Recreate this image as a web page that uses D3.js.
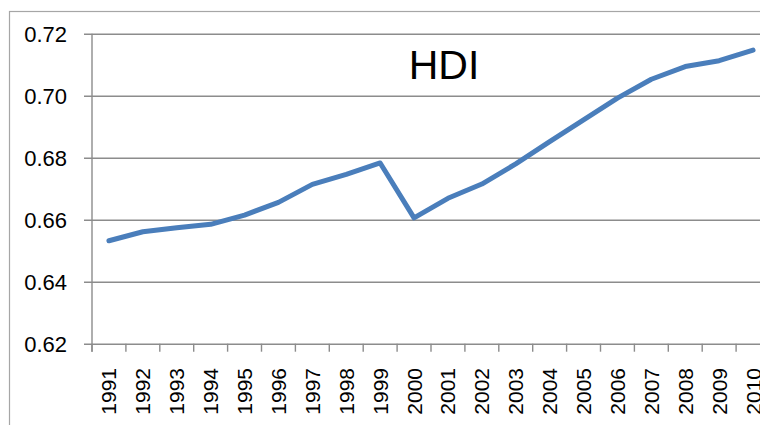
<!DOCTYPE html>
<html>
<head>
<meta charset="utf-8">
<script src="https://cdn.jsdelivr.net/npm/d3@7"></script>
<style>
  body { margin: 0; background: #fff; }
  svg { display: block; font-family: "Liberation Sans", Arial, sans-serif; }
</style>
</head>
<body>
<figure id="chart" style="margin:0"></figure>
<script>
// HDI values
const years = ['1991', '1992', '1993', '1994', '1995', '1996', '1997', '1998', '1999', '2000',
  '2001', '2002', '2003', '2004', '2005', '2006', '2007', '2008', '2009', '2010'];
const hdi = [0.6532, 0.6561, 0.6574, 0.6585, 0.6615, 0.6656, 0.6714, 0.6746, 0.6783, 0.6606,
  0.6669, 0.6715, 0.6780, 0.6852, 0.6922, 0.6992, 0.7053, 0.7094, 0.7113, 0.7147];
const yTicks = [0.62, 0.64, 0.66, 0.68, 0.70, 0.72];
const title = 'HDI';

const width = 760;
const height = 425;
const plotLeft = 92;
const plotW = 678;
const plotTop = 33.7;
const plotBottom = 343.7;

const svg = d3.select('figure#chart')
  .append('svg')
  .attr('width', width)
  .attr('height', height);

// outer chart border (runs off the right and bottom)
svg.append('rect')
  .attr('x', 9.5)
  .attr('y', 11.5)
  .attr('width', 900)
  .attr('height', 500)
  .attr('fill', 'none')
  .attr('stroke', '#a6a6a6')
  .attr('stroke-width', 1.2);

const x = d3.scaleBand()
  .domain(years)
  .range([plotLeft, plotLeft + plotW]);

const y = d3.scaleLinear()
  .domain([0.62, 0.72])
  .range([plotBottom, plotTop]);

// gridlines + y axis
const yAxis = svg.append('g')
  .attr('transform', 'translate(' + plotLeft + ',0)')
  .call(d3.axisLeft(y).tickValues(yTicks).tickSize(-plotW).tickFormat(d3.format('.2f')));
yAxis.select('.domain').remove();
yAxis.selectAll('.tick line')
  .attr('x1', -8)
  .attr('stroke', '#8c8c8c')
  .attr('stroke-width', 1.4);
yAxis.selectAll('.tick text')
  .attr('x', -25)
  .attr('dy', '0.36em')
  .attr('fill', '#000')
  .style('font-size', '22px');

svg.append('line')
  .attr('x1', plotLeft).attr('x2', plotLeft)
  .attr('y1', plotTop).attr('y2', plotBottom + 8)
  .attr('stroke', '#8c8c8c')
  .attr('stroke-width', 1.4);

// category boundary ticks on the x axis
svg.append('g')
  .selectAll('line')
  .data(d3.range(years.length + 1))
  .enter()
  .append('line')
  .attr('x1', i => plotLeft + i * x.step())
  .attr('x2', i => plotLeft + i * x.step())
  .attr('y1', plotBottom)
  .attr('y2', plotBottom + 8)
  .attr('stroke', '#8c8c8c')
  .attr('stroke-width', 1.4);

// x labels, rotated
svg.append('g')
  .selectAll('text')
  .data(years)
  .enter()
  .append('text')
  .attr('transform', d => 'translate(' + (x(d) + x.bandwidth() / 2 + 7.5) + ',368)rotate(-90)')
  .attr('text-anchor', 'end')
  .style('font-size', '21px')
  .text(d => d);

// the line
const line = d3.line()
  .x((d, i) => x(years[i]) + x.bandwidth() / 2)
  .y(d => y(d));

svg.append('path')
  .datum(hdi)
  .attr('d', line)
  .attr('fill', 'none')
  .attr('stroke', '#4a7ebb')
  .attr('stroke-width', 5)
  .attr('stroke-linejoin', 'round')
  .attr('stroke-linecap', 'round');

svg.append('text')
  .attr('x', 444)
  .attr('y', 78.5)
  .attr('text-anchor', 'middle')
  .style('font-size', '41px')
  .text(title);
</script>
</body>
</html>
